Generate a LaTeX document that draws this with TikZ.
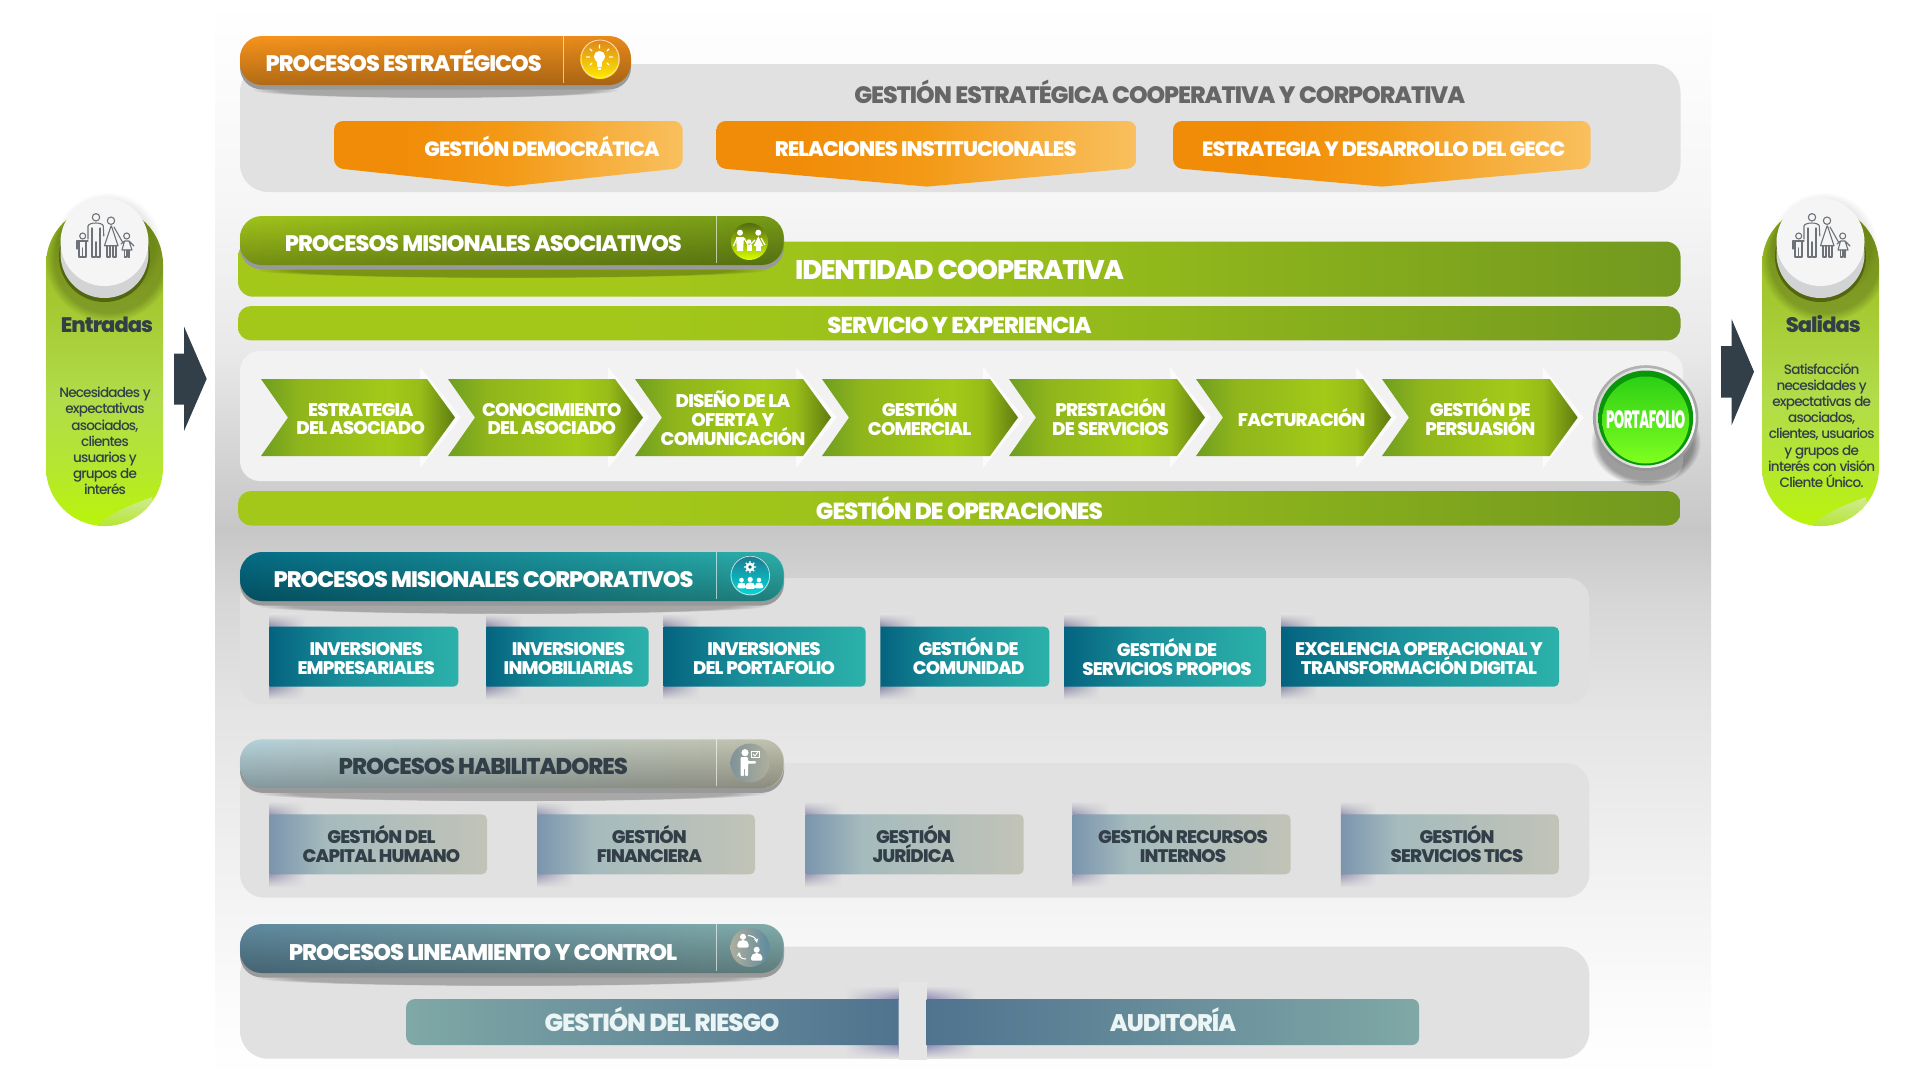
\documentclass[tikz,border=0pt]{standalone}
\usepackage{fontspec}
\setmainfont{Poppins}
\newfontfamily\fb[LetterSpace=-4.5,BoldFont={Poppins ExtraBold}]{Poppins}
\newfontfamily\fm[LetterSpace=-6]{Poppins Medium}
\usetikzlibrary{fadings}
\definecolor{ink}{HTML}{333F48}
\definecolor{panelg}{HTML}{E1E1E1}
\definecolor{linegray}{HTML}{6D7278}
\definecolor{circgrey}{HTML}{D2D3D5}
\definecolor{circwhite}{HTML}{F5F5F6}
\pgfdeclareverticalshading{bgshade}{100bp}{color(0bp)=(white);color(25bp)=(white);color(28.7bp)=(black!1.5);color(35.6bp)=(black!6);color(42.6bp)=(black!11);color(47.2bp)=(black!16);color(50.5bp)=(black!22);color(54.2bp)=(black!16.5);color(58.8bp)=(black!8.6);color(65.7bp)=(black!3.5);color(75bp)=(white);color(100bp)=(white)}
\definecolor{pa}{HTML}{96BA1C}\definecolor{pb}{HTML}{A4C830}\definecolor{pc}{HTML}{B2DC4A}\definecolor{pd}{HTML}{B4E632}\definecolor{pe}{HTML}{BAF40A}
\pgfdeclareverticalshading{pillshade}{100bp}{color(0bp)=(pe);color(25bp)=(pe);color(35bp)=(pd);color(45bp)=(pc);color(60bp)=(pb);color(75bp)=(pa);color(100bp)=(pa)}
\definecolor{ca}{HTML}{6F9E20}\definecolor{cb}{HTML}{8FB51C}\definecolor{cc}{HTML}{A3CA18}\definecolor{cd}{HTML}{98BD18}\definecolor{ce}{HTML}{5F7C10}
\pgfdeclarehorizontalshading{chevshade}{100bp}{color(0bp)=(ca);color(25bp)=(ca);color(35bp)=(cb);color(58bp)=(cc);color(66bp)=(cd);color(75bp)=(ce);color(100bp)=(ce)}
\definecolor{ha}{HTML}{7B95AE}\definecolor{hb}{HTML}{A5BBBD}\definecolor{hc}{HTML}{C2C3B7}
\pgfdeclarehorizontalshading{habshade}{100bp}{color(0bp)=(ha);color(25bp)=(ha);color(38bp)=(hb);color(75bp)=(hc);color(100bp)=(hc)}
\definecolor{ta}{HTML}{04637F}\definecolor{tb}{HTML}{1A8F9A}\definecolor{tc}{HTML}{2CB1AA}
\pgfdeclarehorizontalshading{tealshade}{100bp}{color(0bp)=(ta);color(25bp)=(ta);color(45bp)=(tb);color(75bp)=(tc);color(100bp)=(tc)}
\definecolor{oa}{HTML}{F18C08}\definecolor{ob}{HTML}{F39A17}\definecolor{oc}{HTML}{F9C05E}
\pgfdeclarehorizontalshading{obshade}{100bp}{color(0bp)=(oa);color(25bp)=(oa);color(35bp)=(oa);color(50bp)=(ob);color(75bp)=(oc);color(100bp)=(oc)}
\definecolor{ga}{HTML}{A4C81A}\definecolor{gm}{HTML}{94BB1B}\definecolor{gb}{HTML}{72981F}
\pgfdeclarehorizontalshading{barshade}{100bp}{color(0bp)=(ga);color(25bp)=(ga);color(38bp)=(ga);color(55bp)=(gm);color(75bp)=(gb);color(100bp)=(gb)}
\definecolor{ra}{HTML}{7FA8A6}\definecolor{rb}{HTML}{50738F}
\definecolor{headoa}{HTML}{F7941D}\definecolor{headob}{HTML}{E88A1C}
\definecolor{headga}{HTML}{A0C41B}\definecolor{headgb}{HTML}{769A18}
\definecolor{headta}{HTML}{056C84}\definecolor{headtb}{HTML}{2CB0AC}
\definecolor{headha}{HTML}{B6D2DA}\definecolor{headhb}{HTML}{C2C2AE}
\definecolor{headla}{HTML}{5F8A9E}\definecolor{headlb}{HTML}{82ACAB}
\definecolor{lip}{HTML}{999999}
\definecolor{btnrim}{HTML}{0A960A}\definecolor{btntop}{HTML}{2CD015}\definecolor{btnbot}{HTML}{80FF20}
\tikzset{
 tbold/.style 2 args={text=white,align=center,inner sep=0pt,font=\fontsize{#1}{#2}\fb\bfseries,
   execute at begin node={\leavevmode\vphantom{Ó}},execute at end node={\vphantom{p}}},
 tbody/.style={text=ink,align=center,inner sep=0pt,font=\fontsize{13.6}{16.1}\fm},
 softshadow/.style={black,path fading=circle with fuzzy edge 15 percent},
 family/.pic={
  \begin{scope}[linegray,line width=1.1pt,line join=round,line cap=round]
  \draw (-9,-30.7) circle (3.7);
  \draw (-17,-9) -- (-17,-22) .. controls (-16,-26) and (-2.5,-26) .. (-1.7,-22) -- (-1.2,-12);
  \draw (-13,-20) -- (-13,9) -- (-9.4,9) -- (-9.4,-6) (-8.6,-6) -- (-8.6,9) -- (-5,9) -- (-5,-20);
  \draw (6,-27.3) circle (3.7);
  \draw (6,-22) -- (-0.5,-2.3) -- (13,-2.3) -- (6.5,-22);
  \draw (2,-2.3) -- (2,9) -- (5,9) -- (5,-2.3) (8,-2.3) -- (8,9) -- (11,9) -- (11,-2.3);
  \draw (9,-21) -- (18,-5);
  \draw (-22.3,-12) circle (3);
  \draw (-28,1) -- (-28,-7) -- (-17,-7) (-26,-7) -- (-26,9) -- (-22.8,9) -- (-22.8,0) (-22.2,0) -- (-22.2,9) -- (-19,9) -- (-19,-7);
  \draw (21.7,-12) circle (3);
  \draw (16,-4) -- (19.5,-7) -- (24,-7) -- (29,-2) (19.5,-7) -- (17,2) -- (27,2) -- (24,-7);
  \draw (19.5,2) -- (19.5,9) -- (21.2,9) -- (21.2,2) (23,2) -- (23,9) -- (24.7,9) -- (24.7,2);
  \end{scope}},
 bust/.pic={
  \fill[white] (0,-5.5) circle (3.2);
  \fill[white,rounded corners=2pt] (-6,6) -- (-6,0.5) -- (-2.5,-2) -- (2.5,-2) -- (6,0.5) -- (6,6) -- cycle;}
}
\newcommand{\hdr}[5]{%
 \fill[softshadow,opacity=.25] ({(240+#2)/2},#1+54) ellipse [x radius={(#2-240)*.47},y radius=8];
 \fill[#5,rounded corners=22pt] (240,#1+4.5) rectangle (#2,#1+53.5);
 \shade[left color=#3,right color=#4,rounded corners=22pt] (240,#1) rectangle (#2,#1+49);
 \fill[black,opacity=.28,rounded corners=22pt,path fading=north] (240,#1) rectangle (#2,#1+49);
 \draw[white,opacity=.6,line width=1pt] (#2-67.5,#1) -- (#2-67.5,#1+47);
}
\newcommand{\pbox}[6]{%
 \shade[top color=panelg,bottom color=#5,path fading=east] (#1,#3-13) rectangle (#1+36,#3);
 \shade[top color=#5,bottom color=panelg,path fading=east] (#1,#4) rectangle (#1+36,#4+13);
 \shade[shading=#6] (#1,#3) [rounded corners=5pt] -- (#2,#3) -- (#2,#4) [sharp corners] -- (#1,#4) -- cycle;
}
\newcommand{\obox}[3]{%
 \shade[shading=obshade] (#1,140) [rounded corners=9pt] -- (#1,121) -- (#2,121) -- (#2,168) [sharp corners] -- (#3,186.6) [rounded corners=9pt] -- (#1,168) -- cycle;
}
\newcommand{\pill}[4]{%
 \begin{scope}
 \path[clip,rounded corners=58.3pt] (#1,206) rectangle (#2,526);
 \shade[shading=pillshade] (#1,206) rectangle (#2,526);
 \fill[softshadow,opacity=.22] (#3+4,258) circle (64);
 \shade[top color=pc!60!white,bottom color=pd] (#4,527) .. controls (#4+16,512) and (#4+32,506) .. (#4+56,497) -- (#4+60,527) -- cycle;
 \end{scope}
 \fill[softshadow,opacity=.08] (#3+3,246) circle (54);
 \fill[pa!55!black] (#3,256.5) circle (45.5);
 \fill[circgrey] (#3,254) circle (44);
 \fill[circwhite] (#3,242) circle (44);
}
\newcommand{\chv}[2]{%
 \fill[black!1.5] (#2-35,367) -- (#2+6,417.5) -- (#2-35,468) -- cycle;
 \shade[shading=chevshade] (#1,379) -- (#2-28,379) -- (#2,417.5) -- (#2-28,456) -- (#1,456) -- (#1+27,417.5) -- cycle;
}
\begin{document}
\begin{tikzpicture}[x=1pt,y=-1pt]
\useasboundingbox (0,0) rectangle (1920,1080);
\fill[white] (0,0) rectangle (1920,1080);
\shade[shading=bgshade] (215.5,0) rectangle (1711,1080);

% strategic block
\fill[panelg,rounded corners=28pt] (240,64) rectangle (1680.5,192);
\obox{334}{682.6}{507.6}
\obox{716.5}{1136.4}{927}
\obox{1173}{1590.6}{1382}
\hdr{36}{631}{headoa}{headob}{lip}
\node[tbold={23.7}{24},text=black!60] (gestcorp) at (1159.7,94.5) {GESTIÓN ESTRATÉGICA COOPERATIVA Y CORPORATIVA};
\node[tbold={20.6}{22}] (gdem) at (542,148.8) {GESTIÓN DEMOCRÁTICA};
\node[tbold={21.1}{22}] (rins) at (925.7,148.8) {RELACIONES INSTITUCIONALES};
\node[tbold={20.7}{22}] (edes) at (1383.7,148.8) {ESTRATEGIA Y DESARROLLO DEL GECC};
\node[tbold={22.4}{24}] (hest) at (403.6,63) {PROCESOS ESTRATÉGICOS};
% bulb icon
\shade[top color=headoa!90!black,bottom color=yellow!85!orange] (600,59) circle (20);
\draw[white!75!orange,line width=.8pt] (600,59) circle (19);
\fill[white] (599.5,56.5) circle (5.6);
\fill[white] (596.5,60) -- (602.5,60) -- (601.5,67) -- (597.5,67) -- cycle;
\fill[white] (598,68) rectangle (601,70);
\draw[white,line width=1.2pt,line cap=round] (599.5,45) -- (599.5,48) (590,49) -- (592,51) (609,49) -- (607,51) (586.5,57) -- (589.5,57) (612.5,57) -- (609.5,57) (590,65) -- (592,63) (609,65) -- (607,63);

% associative block
\shade[shading=barshade,rounded corners=15pt] (238,241.5) rectangle (1680.5,296.7);
\hdr{216}{784}{headga}{headgb}{lip}
\shade[top color=headgb!70!black,bottom color=yellow!85!green] (749.4,241.5) circle (18.5);
\fill[white] (740,232.7) circle (3);
\fill[white] (736,237) -- (744,237) -- (743,251) -- (737,251) -- cycle;
\fill[white] (758.3,232.7) circle (3);
\fill[white] (758.3,236.5) -- (763,246) -- (753.6,246) -- cycle;
\fill[white] (755.5,246) rectangle (761,251);
\fill[white] (749,241.5) circle (2.2);
\fill[white] (746.5,244.5) rectangle (751.5,251);
\draw[white,line width=1.2pt] (737,238) -- (733.5,246) (744,238) -- (748,245) (755,240) -- (750,245) (761,238) -- (765,245);
\node[tbold={22.4}{24}] (hasoc) at (483.3,243.3) {PROCESOS MISIONALES ASOCIATIVOS};
\node[tbold={27}{27}] (ident) at (959.5,269.6) {IDENTIDAD COOPERATIVA};
\shade[shading=barshade,rounded corners=13pt] (238,306) rectangle (1680.5,340.4);
\node[tbold={22.9}{22}] (serv) at (959.5,324.8) {SERVICIO Y EXPERIENCIA};
\fill[black!5,rounded corners=20pt] (240,351) rectangle (1683,481);
\shade[shading=barshade,rounded corners=13pt] (238,491) rectangle (1680.5,525.5);
\node[tbold={23.2}{22}] (oper) at (959.5,511) {GESTIÓN DE OPERACIONES};
\chv{261}{455}
\chv{448}{643}
\chv{635}{831}
\chv{822}{1018}
\chv{1009}{1205}
\chv{1196}{1391}
\chv{1382}{1577.7}
\node[tbold={18.3}{18.7}] (c1) at (360.7,421.4) {ESTRATEGIA\\DEL ASOCIADO};
\node[tbold={18.3}{18.7}] (c2) at (551.8,421.4) {CONOCIMIENTO\\DEL ASOCIADO};
\node[tbold={18.3}{19}] (c3) at (733,420.2) {DISEÑO DE LA\\OFERTA Y\\COMUNICACIÓN};
\node[tbold={18.3}{18.7}] (c4) at (919.6,419.2) {GESTIÓN\\COMERCIAL};
\node[tbold={18.3}{18.7}] (c5) at (1110.6,419.2) {PRESTACIÓN\\DE SERVICIOS};
\node[tbold={18.3}{18.7}] (c6) at (1301.6,420) {FACTURACIÓN};
\node[tbold={18.3}{18.7}] (c7) at (1480.3,419.3) {GESTIÓN DE\\PERSUASIÓN};
% button
\fill[softshadow,opacity=.35] (1645.7,442) ellipse [x radius=55,y radius=44];
\shade[top color=black!30,bottom color=black!42] (1645.7,418) circle (52.8);
\shade[left color=black!18,right color=white] (1645.7,418) circle (50);
\shade[top color=btnrim,bottom color=btnrim] (1645.7,418) circle (47.5);
\shade[top color=btntop,bottom color=btnbot] (1645.7,420) circle (43.5);
\node[tbold={25}{26}] (port) at (1645.7,419) {\scalebox{.53}[1]{PORTAFOLIO}};

% corporate block
\fill[panelg!105!white,rounded corners=22pt] (240,578) rectangle (1589.4,704);
\pbox{269.4}{458.4}{626.7}{686.7}{blue!25!black!45}{tealshade}
\pbox{486.4}{648.6}{626.7}{686.7}{blue!25!black!45}{tealshade}
\pbox{663.5}{865.7}{626.7}{686.7}{blue!25!black!45}{tealshade}
\pbox{880.4}{1049.4}{626.7}{686.7}{blue!25!black!45}{tealshade}
\pbox{1064}{1266}{626.7}{686.7}{blue!25!black!45}{tealshade}
\pbox{1281}{1559}{626.7}{686.7}{blue!25!black!45}{tealshade}
\hdr{552}{784}{headta}{headtb}{lip}
\node[tbold={22.4}{24}] (hcorp) at (483.5,579.3) {PROCESOS MISIONALES CORPORATIVOS};
\shade[top color=headta!90!white,bottom color=cyan!70!teal] (750.3,575.5) circle (20);
\draw[white!75!teal,line width=.8pt] (750.3,575.5) circle (19.3);
\fill[white] (750,567) circle (4.4);
\draw[white,line width=1.4pt] (750,561) -- (750,573) (744,567) -- (756,567) (745.8,562.8) -- (754.2,571.2) (745.8,571.2) -- (754.2,562.8);
\fill[headta] (750,567) circle (1.8);
\pic[scale=.72] at (741.5,584) {bust};
\pic[scale=.72] at (759,584) {bust};
\pic[scale=.82] at (750.2,584) {bust};
\node[tbold={18.2}{19}] (t1) at (366.2,660.7) {INVERSIONES\\EMPRESARIALES};
\node[tbold={18.2}{19}] (t2) at (568.6,660.7) {INVERSIONES\\INMOBILIARIAS};
\node[tbold={18.2}{19}] (t3) at (764,660.7) {INVERSIONES\\DEL PORTAFOLIO};
\node[tbold={18.2}{19}] (t4) at (968.6,658.5) {GESTIÓN DE\\COMUNIDAD};
\node[tbold={18.2}{19}] (t5) at (1167,659) {GESTIÓN DE\\SERVICIOS PROPIOS};
\node[tbold={18.2}{19}] (t6) at (1419,660.7) {EXCELENCIA OPERACIONAL Y\\TRANSFORMACIÓN DIGITAL};

% enabling block
\fill[panelg,rounded corners=24pt] (240,763) rectangle (1589.4,897.6);
\pbox{269.4}{487}{814.3}{874.3}{blue!25!black!40}{habshade}
\pbox{537.3}{755}{814.3}{874.3}{blue!25!black!40}{habshade}
\pbox{805.6}{1023.7}{814.3}{874.3}{blue!25!black!40}{habshade}
\pbox{1072.7}{1290.6}{814.3}{874.3}{blue!25!black!40}{habshade}
\pbox{1340.8}{1558.8}{814.3}{874.3}{blue!25!black!40}{habshade}
\hdr{739.3}{784}{headha}{headhb}{lip}
\node[tbold={22.8}{24},text=ink] (hhab) at (483.3,766.3) {PROCESOS HABILITADORES};
\shade[left color=headha!70!black!100,right color=headhb!90!black] (750,763) circle (19.5);
\fill[white] (745,752.7) circle (3.6);
\fill[white,rounded corners=1pt] (740.7,757) -- (748,757) -- (748,761) -- (756,761) -- (756,763.5) -- (748,763.5) -- (748,776) -- (745,776) -- (745,768) -- (744,768) -- (744,776) -- (740.7,776) -- cycle;
\draw[white,line width=.9pt] (751.5,751) rectangle (759.5,757.3);
\draw[white,line width=.9pt] (753,754) -- (755,756) -- (758.5,751);
\node[tbold={18.2}{19},text=ink] (h1) at (381.5,846.2) {GESTIÓN DEL\\CAPITAL HUMANO};
\node[tbold={18.2}{19},text=ink] (h2) at (649.4,846.2) {GESTIÓN\\FINANCIERA};
\node[tbold={18.2}{19},text=ink] (h3) at (913.5,846.2) {GESTIÓN\\JURÍDICA};
\node[tbold={18.2}{19},text=ink] (h4) at (1183,846.2) {GESTIÓN RECURSOS\\INTERNOS};
\node[tbold={18.2}{19},text=ink] (h5) at (1457,846.2) {GESTIÓN\\SERVICIOS TICS};

% control block
\fill[panelg,rounded corners=28pt] (240,946.7) rectangle (1589.4,1058.7);
\shade[top color=panelg,bottom color=blue!35!black!45,path fading=west] (845,986) rectangle (898.6,999);
\shade[top color=blue!35!black!45,bottom color=panelg,path fading=west] (845,1045) rectangle (898.6,1058);
\shade[top color=panelg,bottom color=blue!35!black!45,path fading=east] (926.6,986) rectangle (975,999);
\shade[top color=blue!35!black!45,bottom color=panelg,path fading=east] (926.6,1045) rectangle (975,1058);
\fill[black!10] (898.6,982) rectangle (926.6,1060);
\shade[left color=ra,right color=rb] (898.6,999) [rounded corners=9pt] -- (406,999) -- (406,1045) [sharp corners] -- (898.6,1045) -- cycle;
\shade[left color=rb,right color=ra] (926.6,999) [rounded corners=7pt] -- (1419,999) -- (1419,1045) [sharp corners] -- (926.6,1045) -- cycle;
\hdr{924}{784}{headla}{headlb}{lip}
\node[tbold={22.6}{24}] (hlin) at (483,952) {PROCESOS LINEAMIENTO Y CONTROL};
\shade[left color=headhb!90!black,right color=headla] (750,947.5) circle (19.5);
\pic[scale=.95] at (743,942) {bust};
\pic[scale=.95] at (756.7,955) {bust};
\draw[white,line width=1pt,->,>=stealth] (748,935.5) .. controls (752,935.5) and (756,938) .. (757,943);
\draw[white,line width=1pt,->,>=stealth] (746,959) .. controls (741,959) and (739,956) .. (739,952);
\node[tbold={24.6}{24},text=white!92!teal] (risk) at (662,1023) {GESTIÓN DEL RIESGO};
\node[tbold={24}{24},text=white!92!teal] (audi) at (1173,1023) {AUDITORÍA};

% side pills
\pill{46}{163}{104.5}{96}
\pic at (105,248) {family};
\node[tbold={21}{23},text=ink] (entr) at (107,325) {Entradas};
\node[tbody] (etxt) at (105,441) {Necesidades y\\expectativas\\asociados,\\clientes\\usuarios y\\grupos de\\interés};
\pill{1762}{1879}{1820.5}{1810}
\pic at (1821,248) {family};
\node[tbold={21}{23},text=ink] (sali) at (1823.3,325) {Salidas};
\node[tbody] (stxt) at (1821.7,425.5) {Satisfacción\\necesidades y\\expectativas de\\asociados,\\clientes, usuarios\\y grupos de\\interés con visión\\Cliente Único.};

% flow arrows
\fill[ink] (174,353.6) -- (184,353.6) -- (184,326.5) -- (206.7,378.8) -- (184,431) -- (184,404.6) -- (174,404.6) -- cycle;
\fill[ink] (1721,346) -- (1731.7,346) -- (1731.7,319.3) -- (1754,371.7) -- (1731.7,425) -- (1731.7,397.7) -- (1721,397.7) -- cycle;
\end{tikzpicture}
\end{document}
